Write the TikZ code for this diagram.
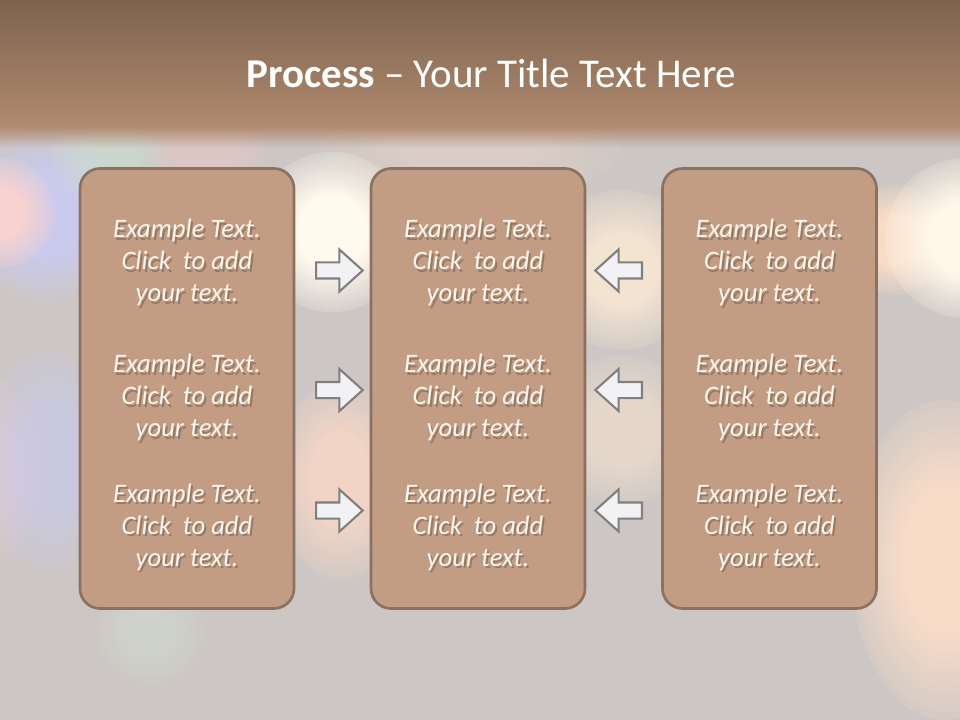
\documentclass[tikz,border=0pt]{standalone}
\usepackage{fontspec}
\setmainfont{Carlito}
\usetikzlibrary{shapes.arrows,fadings}
\begin{tikzfadingfrompicture}[name=plateau]
\fill[transparent!100] (-1,-1) rectangle (1,1);
\foreach \i in {0,...,30}{
  \pgfmathsetmacro\rr{1-\i*0.02}
  \pgfmathsetmacro\tt{max(0,100-\i*3.34)}
  \fill[transparent!\tt] (0,0) circle (\rr);
}
\end{tikzfadingfrompicture}
\tikzfading[name=fadedown, top color=transparent!0, bottom color=transparent!100]
\definecolor{bggray}{HTML}{CCC7C4}
\definecolor{bandtop}{HTML}{7D634F}
\definecolor{bandbot}{HTML}{B08A6E}
\definecolor{boxfill}{HTML}{C29D84}
\definecolor{boxline}{HTML}{8C7160}
\definecolor{txtcol}{HTML}{FBF6F0}
\definecolor{shadowcol}{HTML}{5E4535}
\definecolor{arrfill}{HTML}{F2F2F4}
\definecolor{arrline}{HTML}{808080}
\definecolor{bkLilac}{HTML}{CACBF5}
\definecolor{bkPink}{HTML}{F8D2D0}
\definecolor{bkGreen}{HTML}{CCE0D4}
\definecolor{bkRose}{HTML}{E8C8C8}
\definecolor{bkLilac2}{HTML}{C9CAEE}
\definecolor{bkPink2}{HTML}{E6CACC}
\definecolor{bkGreen2}{HTML}{D2DDD0}
\definecolor{bkWhite}{HTML}{FFF9EE}
\definecolor{bkPeach}{HTML}{F6D6C6}
\definecolor{bkCream}{HTML}{FAE8D4}
\definecolor{bkCream2}{HTML}{EDDCCE}
\definecolor{bkBright}{HTML}{FFF8EA}
\definecolor{bkPeach2}{HTML}{F8DCC8}
\definecolor{bkPeach3}{HTML}{F9DCC8}
\definecolor{bkTop}{HTML}{E4D0C8}
\begin{document}
\begin{tikzpicture}[x=0.75pt,y=-0.75pt,
  panel/.style={draw=boxline, fill=boxfill, line width=2pt, rounded corners=15pt,
    minimum width=160.5pt, minimum height=330pt, inner sep=0pt},
  txt/.style={font=\fontsize{20}{24}\selectfont\itshape, text=txtcol, align=center, inner sep=0pt},
  txtshadow/.style={txt, text=shadowcol, text opacity=0.4},
  blockarrow/.style={single arrow, draw=arrline, fill=arrfill, line width=1.6pt,
    minimum height=35pt, single arrow head extend=9.75pt, inner xsep=0pt, inner ysep=5.25pt,
    single arrow tip angle=84, single arrow head indent=0pt},
  blob/.style={fill=#1, path fading=plateau}
]
\useasboundingbox (0,0) rectangle (960,720);
% background
\fill[bggray] (0,0) rectangle (960,720);
% bokeh blobs
\fill[blob=bkTop, fill opacity=0.6] (470,150) ellipse [x radius=150, y radius=50];
\fill[blob=bkLilac, fill opacity=0.85] (45,215) ellipse [x radius=80, y radius=85];
\fill[blob=bkPink] (0,213) circle [radius=55];
\fill[blob=bkGreen, fill opacity=0.6] (110,150) circle [radius=60];
\fill[blob=bkRose, fill opacity=0.6] (205,150) circle [radius=60];
\fill[blob=bkPink2, fill opacity=0.7] (0,470) ellipse [x radius=40, y radius=90];
\fill[blob=bkLilac2, fill opacity=0.65] (50,460) ellipse [x radius=70, y radius=110];
\fill[blob=bkGreen2, fill opacity=0.5] (150,630) circle [radius=55];
\fill[blob=bkPeach, fill opacity=0.9] (340,480) ellipse [x radius=65, y radius=100];
\fill[blob=bkWhite] (332,232) circle [radius=80];
\fill[blob=bkCream, fill opacity=0.85] (622,270) circle [radius=80];
\fill[blob=bkCream2, fill opacity=0.8] (622,430) circle [radius=75];
\fill[blob=bkPeach2] (895,240) circle [radius=55];
\fill[blob=bkBright] (965,238) circle [radius=80];
\fill[blob=bkPeach3] (945,560) ellipse [x radius=95, y radius=160];
% title band
\shade[top color=bandtop, bottom color=bandbot] (0,0) rectangle (960,126);
\fill[bandbot, path fading=fadedown] (0,126) rectangle (960,148);
% title
\node[anchor=base, text=white, font=\fontsize{30.7}{37}\selectfont, inner sep=0pt] (title) at (491.5,87.3)
  {\textbf{Process} – Your Title Text Here};
% panels
\node[panel] (p1) at (187,388.5) {};
\node[panel] (p2) at (478,388.5) {};
\node[panel] (p3) at (769.5,388.5) {};
% texts
\foreach \c/\x in {1/187,2/478,3/769.5}{
  \foreach \r/\y in {1/262.5,2/397.5,3/527}{
    \node[txtshadow] (s\c\r) at (\x+2,\y+2.5) {Example Text.\\Click~ to add\\your text.};
    \node[txt] (t\c\r) at (\x,\y) {Example Text.\\Click~ to add\\your text.};
  }
}
% arrows
\node[blockarrow, anchor=tail] (a1) at (315,270.5) {};
\node[blockarrow, anchor=tail] (a2) at (315,390) {};
\node[blockarrow, anchor=tail] (a3) at (315,510.5) {};
\node[blockarrow, shape border rotate=180, anchor=tail] (a4) at (643,270.5) {};
\node[blockarrow, shape border rotate=180, anchor=tail] (a5) at (643,390) {};
\node[blockarrow, shape border rotate=180, anchor=tail] (a6) at (643,510.5) {};
\end{tikzpicture}
\end{document}
